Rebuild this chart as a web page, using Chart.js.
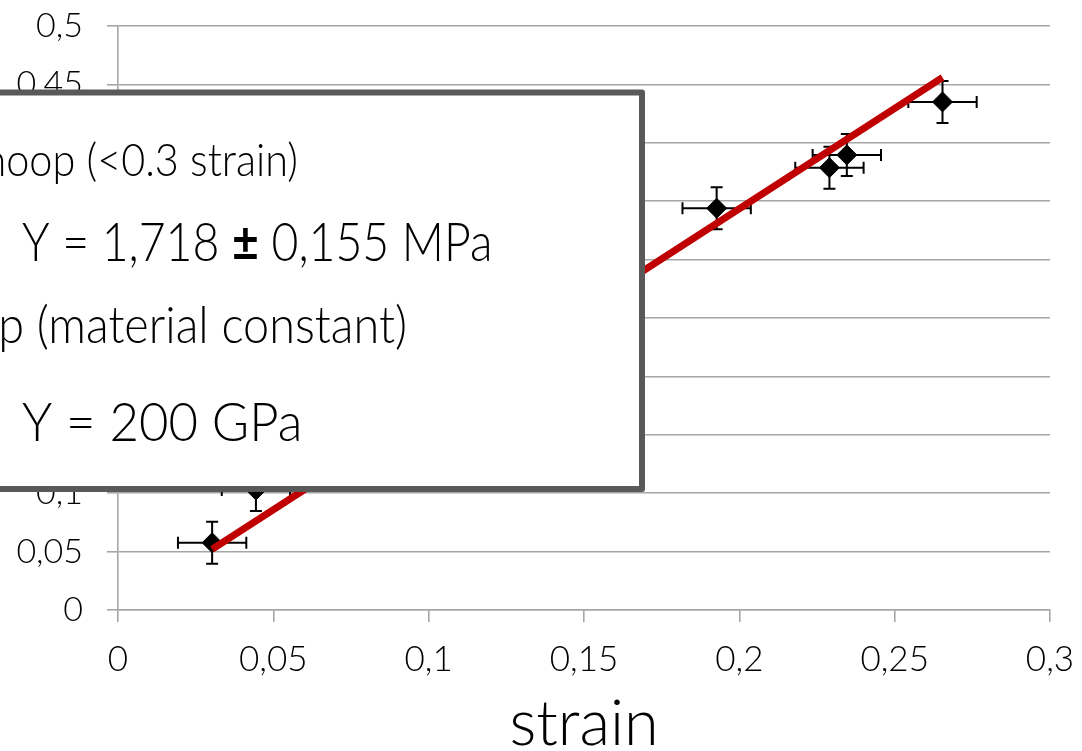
<!DOCTYPE html>
<html>
<head>
<meta charset="utf-8">
<script src="https://cdn.jsdelivr.net/npm/chart.js@4.4.1/dist/chart.umd.min.js"></script>
<style>
  html, body { margin: 0; padding: 0; background: #ffffff; }
  #wrap { width: 1082px; height: 751px; position: relative; }
</style>
</head>
<body>
<div id="wrap"><canvas id="chart"></canvas></div>
<script>
// Measured hoop points: strain vs stress with symmetric error bars
const strain    = [0.0303, 0.0444, 0.1927, 0.2290, 0.2346, 0.2654];
const stress    = [0.0576, 0.1027, 0.3440, 0.3787, 0.3896, 0.4350];
const strainErr = [0.011, 0.011, 0.011, 0.011, 0.011, 0.011];
const stressErr = [0.018, 0.018, 0.018, 0.018, 0.018, 0.018];

// Linear fit through the origin (slope = modulus)
const fitSlope = 1.718;

// Axis tick labels (comma decimal)
const xTickLabels = ['0', '0,05', '0,1', '0,15', '0,2', '0,25', '0,3'];
const yTickLabels = ['0', '0,05', '0,1', '0,15', '0,2', '0,25', '0,3', '0,35', '0,4', '0,45', '0,5'];

// Text block shown in the annotation box
const noteLines = [
  'Rubber hoop (<0.3 strain)',
  'Y = 1,718 \u00B1 0,155 MPa',
  'Steel hoop (material constant)',
  'Y = 200 GPa'
];

const FONT = 'Lato, "Noto Sans", sans-serif';
const GRID = '#a6a6a6';
const INK = '#000000';

const points = strain.map((x, i) => ({ x: x, y: stress[i] }));
const fitX0 = strain[0];
const fitX1 = strain[strain.length - 1];
const fitLine = [
  { x: fitX0, y: fitSlope * fitX0 },
  { x: fitX1, y: fitSlope * fitX1 }
];

// Error bars for the scatter dataset, drawn right after its points
const errorBars = {
  id: 'errorBars',
  afterDatasetDraw(chart, args) {
    if (args.index !== 1) return;
    const { ctx, scales: { x: xs, y: ys } } = chart;
    const cap = 6;
    ctx.save();
    ctx.strokeStyle = '#000000';
    ctx.lineWidth = 2;
    ctx.beginPath();
    strain.forEach((sx, i) => {
      const sy = stress[i];
      const px = xs.getPixelForValue(sx);
      const py = ys.getPixelForValue(sy);
      const xl = xs.getPixelForValue(sx - strainErr[i]);
      const xr = xs.getPixelForValue(sx + strainErr[i]);
      const yt = ys.getPixelForValue(sy + stressErr[i]);
      const yb = ys.getPixelForValue(sy - stressErr[i]);
      ctx.moveTo(xl, py); ctx.lineTo(xr, py);
      ctx.moveTo(xl, py - cap); ctx.lineTo(xl, py + cap);
      ctx.moveTo(xr, py - cap); ctx.lineTo(xr, py + cap);
      ctx.moveTo(px, yt); ctx.lineTo(px, yb);
      ctx.moveTo(px - cap, yt); ctx.lineTo(px + cap, yt);
      ctx.moveTo(px - cap, yb); ctx.lineTo(px + cap, yb);
    });
    ctx.stroke();
    ctx.restore();
  }
};

// Annotation box with the fitted moduli, laid over the plot
const noteBox = {
  id: 'noteBox',
  afterDraw(chart) {
    const ctx = chart.ctx;
    ctx.save();
    ctx.lineJoin = 'round';
    ctx.fillStyle = '#ffffff';
    ctx.strokeStyle = '#595959';
    ctx.lineWidth = 6;
    ctx.beginPath();
    ctx.rect(-20, 92.5, 662, 396.5);
    ctx.fill();
    ctx.stroke();

    const specs = [
      { size: 46, align: 'right', x: 298, y: 176 },
      { size: 53, align: 'left',  x: 22,  y: 261 },
      { size: 52, align: 'right', x: 407, y: 343 },
      { size: 53, align: 'left',  x: 22,  y: 441 }
    ];
    const condense = [0.9, 0.875, 0.9, 0.96];
    ctx.fillStyle = INK;
    ctx.textBaseline = 'alphabetic';
    noteLines.forEach((t, i) => {
      const s = specs[i];
      const light = '300 ' + s.size + 'px ' + FONT;
      const bold = '700 ' + s.size + 'px ' + FONT;
      ctx.save();
      ctx.translate(s.x, s.y);
      ctx.scale(condense[i], 1);
      if (s.align === 'right' || t.indexOf('\u00B1') < 0) {
        ctx.font = light;
        ctx.textAlign = s.align;
        ctx.fillText(t, 0, 0);
      } else {
        // plus-minus sign set in a heavier weight
        ctx.textAlign = 'left';
        let cx = 0;
        t.split(/(\u00B1)/).forEach(part => {
          ctx.font = part === '\u00B1' ? bold : light;
          ctx.fillText(part, cx, 0);
          cx += ctx.measureText(part).width;
        });
      }
      ctx.restore();
    });
    ctx.restore();
  }
};

new Chart(document.getElementById('chart'), {
  type: 'scatter',
  data: {
    datasets: [
      {
        type: 'line',
        label: 'fit',
        data: fitLine,
        borderColor: '#c00000',
        borderWidth: 7,
        borderCapStyle: 'butt',
        pointRadius: 0,
        fill: false,
        order: 0
      },
      {
        label: 'hoop',
        data: points,
        pointStyle: 'rectRot',
        pointRadius: 10,
        pointHoverRadius: 10,
        backgroundColor: '#000000',
        borderColor: '#000000',
        borderWidth: 1,
        order: 1
      }
    ]
  },
  options: {
    responsive: true,
    maintainAspectRatio: false,
    animation: false,
    events: [],
    layout: { padding: { top: 26, right: 32, left: 0, bottom: 0 } },
    plugins: {
      legend: { display: false },
      tooltip: { enabled: false }
    },
    scales: {
      x: {
        type: 'linear',
        min: 0,
        max: 0.3,
        afterFit(scale) {
          scale.height = 141;
          scale.paddingLeft = 0;
          scale.paddingRight = 0;
        },
        ticks: {
          stepSize: 0.05,
          padding: 17,
          color: INK,
          font: { family: FONT, size: 35, weight: '300' },
          maxRotation: 0,
          callback: (v, i) => xTickLabels[i]
        },
        grid: {
          drawOnChartArea: false,
          drawTicks: true,
          tickLength: 12,
          color: GRID,
          lineWidth: 1.6
        },
        border: { display: true, color: GRID, width: 1.6 },
        title: {
          display: true,
          text: 'strain',
          color: INK,
          font: { family: FONT, size: 63, weight: '300', lineHeight: 0.8 },
          padding: { top: 0, bottom: 1 }
        }
      },
      y: {
        type: 'linear',
        min: 0,
        max: 0.5,
        afterFit(scale) {
          scale.width = 118;
          scale.paddingTop = 0;
          scale.paddingBottom = 0;
        },
        ticks: {
          stepSize: 0.05,
          padding: 24,
          color: INK,
          font: { family: FONT, size: 34, weight: '300' },
          callback: (v, i) => yTickLabels[i]
        },
        grid: {
          drawTicks: true,
          tickLength: 11,
          color: GRID,
          lineWidth: 1.6
        },
        border: { display: true, color: GRID, width: 1.6 }
      }
    }
  },
  plugins: [errorBars, noteBox]
});
</script>
</body>
</html>
